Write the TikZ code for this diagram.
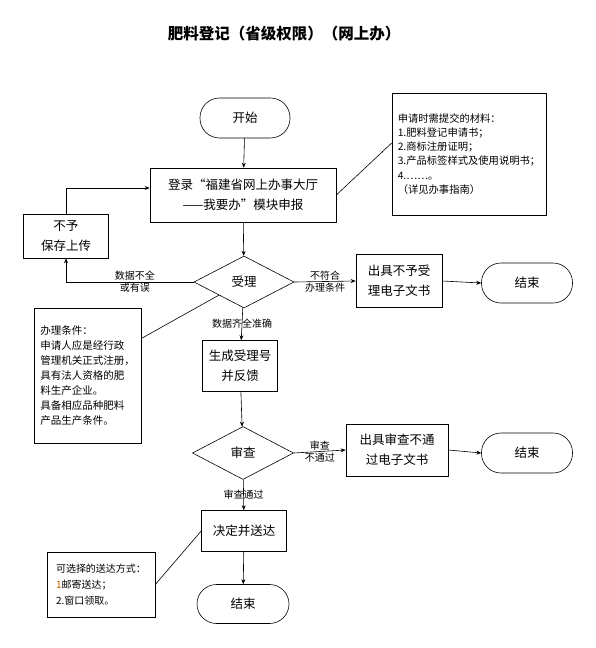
\documentclass[tikz,border=0pt]{standalone}
\usepackage{fontspec}
\setmainfont{Noto Sans CJK SC}
\usetikzlibrary{positioning, arrows.meta, shapes.geometric, calc}

\begin{document}
\begin{tikzpicture}[
            x=1pt, y=-1pt,
            >={Stealth[length=5pt, width=4pt]},
            line width=0.6pt,
            box/.style={draw, rectangle, align=center, inner sep=2pt, font=\fontsize{12.5}{20}\selectfont},
            terminal/.style={draw, rectangle, rounded corners=19.5pt, minimum width=91pt, minimum height=40pt, font=\fontsize{12.5}{15}\selectfont},
            decision/.style={draw, diamond, aspect=2, inner sep=0pt, minimum width=100pt, minimum height=52pt, font=\fontsize{12.5}{15}\selectfont},
            note/.style={draw, rectangle, align=left, inner sep=5pt},
            lab/.style={font=\fontsize{10}{12}\selectfont, inner sep=1pt},
        ]
            \useasboundingbox (0,0) rectangle (595,648);
            \def\midx{243};

            % Title
            \node[font=\fontsize{15.5}{18}\selectfont\bfseries] (title) at (284,34) {肥料登记（省级权限）（网上办）};

            % Main column
            \node[terminal, minimum width=90pt] (start) at (245,118) {开始};
            \node[box, minimum width=186pt, minimum height=54pt] (login) at (\midx,195) {登录“福建省网上办事大厅\\——我要办”模块申报};
            \node[decision] (accept) at (244,282) {受理};
            \node[box, minimum width=75pt, minimum height=51pt] (number) at (240,366) {生成受理号\\并反馈};
            \node[decision, minimum width=101pt, minimum height=53pt] (review) at (\midx,453) {审查};
            \node[box, minimum width=85pt, minimum height=41pt] (decide) at (244,531) {决定并送达};
            \node[terminal, minimum width=92pt, minimum height=39pt] (end3) at (\midx,604) {结束};

            % Side boxes
            \node[box, minimum width=85pt, minimum height=44pt] (reject) at (66,236) {不予\\保存上传};
            \node[box, minimum width=86pt, minimum height=53pt] (refuse) at (399,281) {出具不予受\\理电子文书};
            \node[terminal] (end1) at (527,283) {结束};
            \node[box, minimum width=102pt, minimum height=52pt] (fail) at (397,450) {出具审查不通\\过电子文书};
            \node[terminal] (end2) at (527,453) {结束};

            % Notes
            \node[note, minimum width=154pt, minimum height=122pt, font=\fontsize{10.3}{14.2}\selectfont] (mater) at (469,154)
                {申请时需提交的材料：\\1.肥料登记申请书；\\2.商标注册证明；\\3.产品标签样式及使用说明书；\\4.……。\\（详见办事指南）};
            \node[note, minimum width=107pt, minimum height=135pt, font=\fontsize{10.5}{15}\selectfont] (cond) at (87.5,375.5)
                {办理条件：\\申请人应是经行政\\管理机关正式注册，\\具有法人资格的肥\\料生产企业。\\具备相应品种肥料\\产品生产条件。};
            \node[note, minimum width=108pt, minimum height=65pt, font=\fontsize{10}{16}\selectfont] (ways) at (101,584.5)
                {可选择的送达方式：\\{\color{orange!75!black}1}邮寄送达；\\2.窗口领取。};

            % Connect the main column
            \draw[->] (start) -- (login);
            \draw[->] (login) -- (accept);
            \draw[->] (accept) -- node[lab] {数据齐全准确} (number);
            \draw[->] (number) -- (review);
            \draw[->] (review) -- node[lab] {审查通过} (decide);
            \draw[->] (decide) -- (end3);

            % Connect the side branches
            \draw[->] (accept.west) -| node[lab, above, pos=0.23] {数据不全} node[lab, below, pos=0.23] {或有误} (reject.south);
            \draw[->] (reject.north) |- ([yshift=7pt]login.west);
            \draw[->] (accept.east) -- node[lab, above] {不符合} node[lab, below] {办理条件} (refuse.west);
            \draw[->] (refuse.east) -- (end1.west);
            \draw[->] (review.east) -- node[lab, above] {审查} node[lab, below] {不通过} (fail.west);
            \draw[->] (fail.east) -- (end2.west);

            % Attach the notes
            \draw ([yshift=11pt]mater.west) -- (login.east);
            \draw ([yshift=37pt]cond.east) -- (accept.south west);
            \draw (ways.east) -- (decide.west);
        \end{tikzpicture}
\end{document}
